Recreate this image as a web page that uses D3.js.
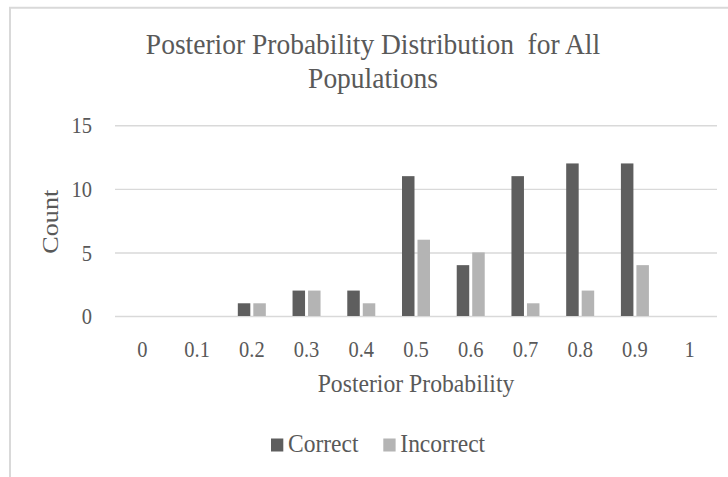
<!DOCTYPE html>
<html>
<head>
<meta charset="utf-8">
<script src="https://cdn.jsdelivr.net/npm/d3@7"></script>
<style>
  body { margin: 0; background: #fff; }
  text { font-family: "Liberation Serif", "Times New Roman", serif; fill: #595959; }
</style>
</head>
<body>
<div id="vis"></div>
<script>
// chart values
var categories = ["0", "0.1", "0.2", "0.3", "0.4", "0.5", "0.6", "0.7", "0.8", "0.9", "1"];
var correct   = [0, 0, 1, 2, 2, 11, 4, 11, 12, 12, 0];
var incorrect = [0, 0, 1, 2, 1, 6, 5, 1, 2, 4, 0];
var seriesNames = ["Correct", "Incorrect"];
var seriesColors = ["#5e5e5e", "#b4b4b4"];
var yTicks = [0, 5, 10, 15];

var width = 728, height = 477;
// the original picture is a bit stretched vertically, so text gets squashed the same way
var SY = 1.09;

var svg = d3.select("#vis").append("svg")
  .attr("width", width)
  .attr("height", height);

// chart area frame (only the top and left edges show)
svg.append("path")
  .attr("d", "M10," + height + "V7.7H" + width)
  .attr("fill", "none")
  .attr("stroke", "#d9d9d9")
  .attr("stroke-width", 2);

var plotL = 115, plotR = 717, plotT = 125.3, plotB = 316;

var x = d3.scaleBand().domain(categories).range([plotL, plotR]);
var x1 = d3.scaleBand().domain(seriesNames).range([0, 28]).paddingInner(3 / 15.5);
var y = d3.scaleLinear().domain([0, 15]).range([plotB, plotT]);

// gridlines + y tick labels
var yAxis = svg.append("g")
  .attr("transform", "translate(" + plotL + ",0)")
  .call(d3.axisLeft(y).tickValues(yTicks).tickSize(-(plotR - plotL)).tickPadding(23));
yAxis.select(".domain").remove();
yAxis.selectAll(".tick line").attr("stroke", "#d9d9d9").attr("stroke-width", 1.4);
yAxis.selectAll(".tick text")
  .attr("x", 0).attr("dy", 0)
  .attr("transform", "translate(-23,7.6) scale(1," + SY + ")")
  .attr("font-size", 20.5)
  .style("font-family", null)
  .attr("fill", "#595959");

// x tick labels
var xAxis = svg.append("g")
  .attr("transform", "translate(0," + plotB + ")")
  .call(d3.axisBottom(x).tickSize(0));
xAxis.select(".domain").remove();
xAxis.selectAll(".tick text")
  .attr("y", 0).attr("dy", 0)
  .attr("transform", "translate(0,40.5) scale(1," + SY + ")")
  .attr("font-size", 20.5)
  .attr("fill", "#595959");
svg.selectAll(".tick text").attr("font-family", null);

// bars
var rows = categories.map(function (c, i) {
  return { cat: c, values: [correct[i], incorrect[i]] };
});

var groups = svg.append("g").selectAll("g")
  .data(rows)
  .join("g")
  .attr("transform", function (d) {
    return "translate(" + (x(d.cat) + x.bandwidth() / 2 - 14) + ",0)";
  });

groups.selectAll("rect")
  .data(function (d) {
    return d.values.map(function (v, j) { return { name: seriesNames[j], value: v, idx: j }; });
  })
  .join("rect")
  .attr("x", function (d) { return x1(d.name); })
  .attr("width", x1.bandwidth())
  .attr("y", function (d) { return y(d.value); })
  .attr("height", function (d) { return plotB - y(d.value); })
  .attr("fill", function (d) { return seriesColors[d.idx]; });

// text helper, squashed like the source image
function label(px, py, str, size, anchor, rot) {
  var g = svg.append("g")
    .attr("transform", "translate(" + px + "," + py + ") scale(1," + SY + ")" + (rot ? " rotate(" + rot + ")" : ""));
  return g.append("text")
    .attr("text-anchor", anchor)
    .attr("font-size", size)
    .style("white-space", "pre")
    .text(str);
}

// title
label(373, 54, "Posterior Probability Distribution  for All", 27.5, "middle");
label(373, 88, "Populations", 27.5, "middle");

// axis titles
label(57.5, 221.7, "Count", 24, "middle", -90);
label(416, 392.3, "Posterior Probability", 23.7, "middle");

// legend
var legendX = [271, 383.3];
seriesNames.forEach(function (name, i) {
  svg.append("rect")
    .attr("x", legendX[i]).attr("y", 438.5)
    .attr("width", 12.3).attr("height", 13)
    .attr("fill", seriesColors[i]);
  label(legendX[i] + 17, 452.3, name, 23.5, "start");
});
</script>
</body>
</html>
